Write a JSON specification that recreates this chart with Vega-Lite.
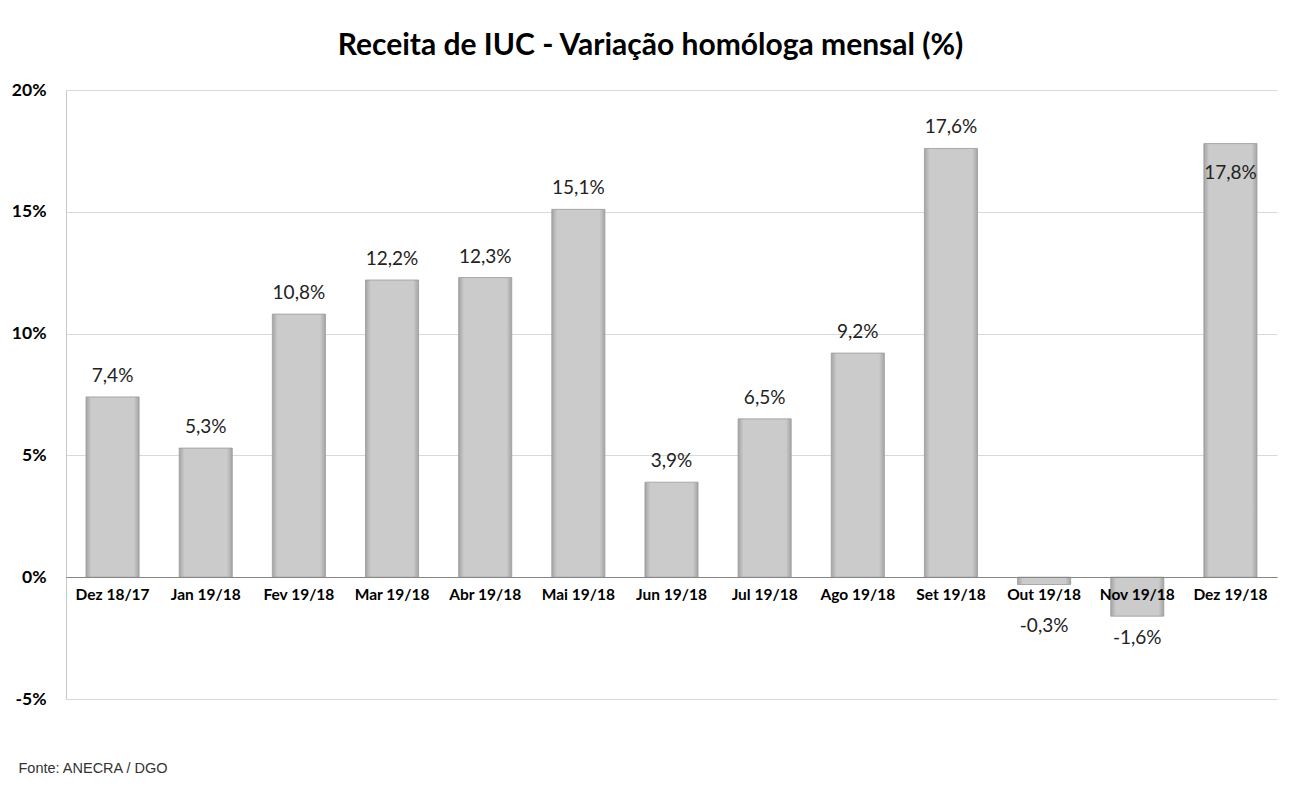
{
  "$schema": "https://vega.github.io/schema/vega-lite/v6.json",
  "autosize": "none",
  "width": 1211,
  "height": 609,
  "padding": {"left": 66, "top": 90, "right": 14, "bottom": 90},
  "background": "white",
  "title": {
    "text": "Receita de IUC - Variação homóloga mensal (%)",
    "font": "Lato",
    "fontSize": 30,
    "fontWeight": "bold",
    "color": "#000000",
    "anchor": "middle",
    "dx": -21,
    "offset": 20
  },
  "config": {
    "locale": {
      "number": {"decimal": ",", "thousands": ".", "grouping": [3], "currency": ["", " €"], "minus": "-"}
    },
    "view": {"stroke": null},
    "font": "Lato"
  },
  "data": {
    "values": [
      {"mes": "Dez 18/17", "v": 0.074},
      {"mes": "Jan 19/18", "v": 0.053},
      {"mes": "Fev 19/18", "v": 0.108},
      {"mes": "Mar 19/18", "v": 0.122},
      {"mes": "Abr 19/18", "v": 0.123},
      {"mes": "Mai 19/18", "v": 0.151},
      {"mes": "Jun 19/18", "v": 0.039},
      {"mes": "Jul 19/18", "v": 0.065},
      {"mes": "Ago 19/18", "v": 0.092},
      {"mes": "Set 19/18", "v": 0.176},
      {"mes": "Out 19/18", "v": -0.003},
      {"mes": "Nov 19/18", "v": -0.016},
      {"mes": "Dez 19/18", "v": 0.178}
    ]
  },
  "encoding": {
    "x": {
      "field": "mes",
      "type": "nominal",
      "sort": null,
      "scale": {"paddingInner": 0.43, "paddingOuter": 0.215},
      "axis": {
        "zindex": 1,
        "title": "Fonte: ANECRA / DGO",
        "titleFont": "Liberation Sans",
        "titleFontSize": 14.5,
        "titleFontWeight": "normal",
        "titleColor": "#333333",
        "titleAnchor": "start",
        "titleAlign": "left",
        "titleBaseline": "middle",
        "titleX": -48,
        "titleY": 191,
        "offset": -122,
        "labelAngle": 0,
        "labelFont": "Lato",
        "labelFontSize": 15.5,
        "labelFontWeight": "bold",
        "labelColor": "#000000",
        "labelPadding": 10,
        "ticks": false,
        "domainColor": "#868686",
        "domainWidth": 1,
        "grid": false
      }
    },
    "y": {
      "field": "v",
      "type": "quantitative",
      "scale": {"domain": [-0.05, 0.2], "nice": false, "zero": false},
      "axis": {
        "title": null,
        "format": ".0%",
        "values": [-0.05, 0, 0.05, 0.1, 0.15, 0.2],
        "labelFont": "Lato",
        "labelFontSize": 17.5,
        "labelFontWeight": "bold",
        "labelColor": "#000000",
        "labelPadding": 20,
        "ticks": false,
        "domainColor": "#c8c8c8",
        "grid": true,
        "gridColor": "#d9d9d9"
      }
    }
  },
  "layer": [
    {
      "mark": {
        "type": "bar",
        "stroke": "#9a9a9a",
        "strokeWidth": 0.8,
        "fill": {
          "gradient": "linear",
          "x1": 0, "x2": 1, "y1": 0, "y2": 0,
          "stops": [
            {"offset": 0, "color": "#a4a4a4"},
            {"offset": 0.1, "color": "#cbcbcb"},
            {"offset": 0.9, "color": "#cbcbcb"},
            {"offset": 1, "color": "#a4a4a4"}
          ]
        }
      },
      "encoding": {"y2": {"datum": 0}}
    },
    {
      "transform": [{"filter": "datum.v > 0 && datum.mes != 'Dez 19/18'"}],
      "mark": {"type": "text", "baseline": "middle", "dy": -21, "fontSize": 19, "color": "#222222"},
      "encoding": {"text": {"field": "v", "type": "quantitative", "format": ".1%"}}
    },
    {
      "transform": [{"filter": "datum.mes == 'Dez 19/18'"}],
      "mark": {"type": "text", "baseline": "middle", "dy": 29, "fontSize": 19, "color": "#222222"},
      "encoding": {"text": {"field": "v", "type": "quantitative", "format": ".1%"}}
    },
    {
      "transform": [{"filter": "datum.mes == 'Out 19/18'"}],
      "mark": {"type": "text", "baseline": "middle", "dy": 41, "fontSize": 19, "color": "#222222"},
      "encoding": {"text": {"field": "v", "type": "quantitative", "format": ".1%"}}
    },
    {
      "transform": [{"filter": "datum.mes == 'Nov 19/18'"}],
      "mark": {"type": "text", "baseline": "middle", "dy": 22, "fontSize": 19, "color": "#222222"},
      "encoding": {"text": {"field": "v", "type": "quantitative", "format": ".1%"}}
    }
  ]
}
